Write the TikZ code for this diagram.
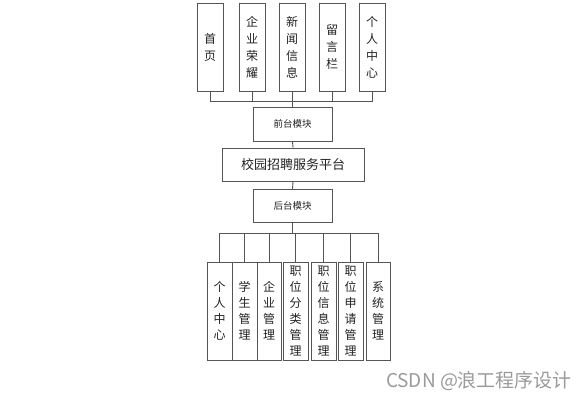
\documentclass[tikz,border=0pt]{standalone}
\usepackage{fontspec}
\setmainfont{Noto Sans CJK SC}
\definecolor{boxc}{HTML}{555555}
\definecolor{txtc}{HTML}{222222}
\definecolor{wmc}{HTML}{9A9A9A}
\begin{document}
\begin{tikzpicture}[x=1pt,y=-1pt,
  box/.style={draw=boxc, line width=0.9pt, inner sep=0pt, text=txtc, align=center},
  vbox/.style={box, minimum width=26pt, minimum height=88pt, font=\fontsize{12}{17}\selectfont},
  bbox/.style={box, minimum width=25pt, minimum height=98pt, font=\fontsize{12}{16}\selectfont},
  mbox/.style={box, minimum width=79pt, minimum height=34pt, font=\fontsize{9.5}{12}\selectfont},
  conn/.style={draw=boxc, line width=0.9pt}]
\useasboundingbox (0,0) rectangle (586,400);
% top row
\node[vbox] (t1) at (210,47) {首\\页};
\node[vbox] (t2) at (252,47) {企\\业\\荣\\耀};
\node[vbox] (t3) at (292,47) {新\\闻\\信\\息};
\node[vbox] (t4) at (332,47) {留\\言\\栏};
\node[vbox] (t5) at (372,47) {个\\人\\中\\心};
% middle
\node[mbox] (front) at (292.5,124) {前台模块};
\node[box, minimum width=142pt, minimum height=33pt, font=\fontsize{13}{15}\selectfont] (main) at (293,164.5) {校园招聘服务平台};
\node[mbox, minimum height=33pt] (back) at (292.5,206) {后台模块};
% bottom row
\node[bbox] (b1) at (219.5,311) {个\\人\\中\\心};
\node[bbox] (b2) at (244.5,311) {学\\生\\管\\理};
\node[bbox, minimum width=24pt] (b3) at (269,311) {企\\业\\管\\理};
\node[bbox] (b4) at (295.5,311) {职\\位\\分\\类\\管\\理};
\node[bbox] (b5) at (323.5,311) {职\\位\\信\\息\\管\\理};
\node[bbox] (b6) at (350.5,311) {职\\位\\申\\请\\管\\理};
\node[bbox, minimum width=24pt] (b7) at (378,311) {系\\统\\管\\理};
% buses
\coordinate (busT) at (292,101);
\coordinate (busB) at (293,233);
\draw[conn] (t1.south) |- (t5.south |- busT) -- (t5.south);
\foreach \n in {t2,t3,t4} \draw[conn] (\n.south) -- (\n.south |- busT);
\draw[conn] (front.north |- busT) -- (front.north);
\draw[conn] (front.south) -- (main.north);
\draw[conn] (main.south) -- (back.north);
\draw[conn] (back.south) -- (back.south |- busB);
\draw[conn] (b1.north) |- (b7.north |- busB) -- (b7.north);
\foreach \n in {b2,b3,b4,b5,b6} \draw[conn] (\n.north) -- (\n.north |- busB);
% watermark
\node[text=wmc, font=\fontsize{19}{22}\selectfont, inner sep=0pt] (wm) at (479,381) {CSDN @浪工程序设计};
\end{tikzpicture}
\end{document}
